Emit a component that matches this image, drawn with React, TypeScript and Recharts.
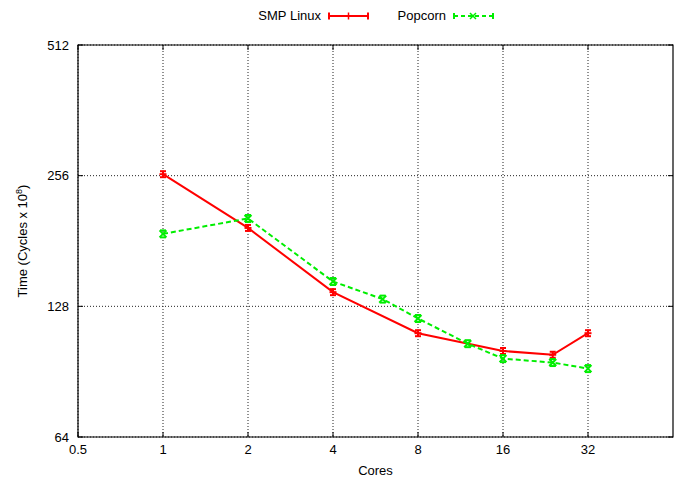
import React from "react";
import {
  LineChart,
  Line,
  XAxis,
  YAxis,
  CartesianGrid,
  ReferenceArea,
} from "recharts";

const xTicks = [0.5, 1, 2, 4, 8, 16, 32];
const yTicks = [64, 128, 256, 512];

const smpCores = [1, 2, 4, 8, 16, 24, 32];
const smpTime = [258, 194, 138, 111, 101, 99, 111];

const popCores = [1, 2, 4, 6, 8, 12, 16, 24, 32];
const popTime = [188, 204, 146, 133, 120, 105, 97, 95, 92];

const smpData = smpCores.map((c, i) => ({ cores: c, time: smpTime[i] }));
const popData = popCores.map((c, i) => ({ cores: c, time: popTime[i] }));

const FONT = "'Liberation Sans', Arial, Helvetica, sans-serif";
const FS = 13;
const RED = "#ff0000";
const GREEN = "#00ee00";

// plot box edges, from the chart margins below
const PLOT = { left: 78, right: 673, top: 45, bottom: 437 };

// plus marker with error-bar caps
const PlusDot = (props: any) => {
  const { cx, cy, index } = props;
  if (cx == null || cy == null) return <g key={index} />;
  return (
    <g key={index} stroke={RED} strokeWidth={2}>
      <line x1={cx - 3.5} y1={cy} x2={cx + 3.5} y2={cy} />
      <line x1={cx} y1={cy - 3.5} x2={cx} y2={cy + 3.5} />
      <line x1={cx - 3} y1={cy - 3} x2={cx + 3} y2={cy - 3} />
      <line x1={cx - 3} y1={cy + 3} x2={cx + 3} y2={cy + 3} />
    </g>
  );
};

// cross marker with error-bar caps
const CrossDot = (props: any) => {
  const { cx, cy, index } = props;
  if (cx == null || cy == null) return <g key={index} />;
  return (
    <g key={index} stroke={GREEN} strokeWidth={2}>
      <line x1={cx - 3.5} y1={cy - 3.5} x2={cx + 3.5} y2={cy + 3.5} />
      <line x1={cx - 3.5} y1={cy + 3.5} x2={cx + 3.5} y2={cy - 3.5} />
      <line x1={cx - 3} y1={cy - 3.5} x2={cx + 3} y2={cy - 3.5} />
      <line x1={cx - 3} y1={cy + 3.5} x2={cx + 3} y2={cy + 3.5} />
    </g>
  );
};

// tick label plus gnuplot-style inward ticks on both sides
const YTick = (props: any) => {
  const { x, y, payload } = props;
  return (
    <g>
      <line x1={PLOT.left} y1={y} x2={PLOT.left + 5} y2={y} stroke="#000" />
      <line x1={PLOT.right - 5} y1={y} x2={PLOT.right} y2={y} stroke="#000" />
      <text x={x} y={y} dy="0.35em" textAnchor="end" fontSize={FS} fontFamily={FONT} fill="#000">
        {payload.value}
      </text>
    </g>
  );
};

const XTick = (props: any) => {
  const { x, y, payload } = props;
  return (
    <g>
      <line x1={x} y1={PLOT.bottom} x2={x} y2={PLOT.bottom - 5} stroke="#000" />
      <line x1={x} y1={PLOT.top} x2={x} y2={PLOT.top + 5} stroke="#000" />
      <text x={x} y={y} dy="0.71em" textAnchor="middle" fontSize={FS} fontFamily={FONT} fill="#000">
        {payload.value}
      </text>
    </g>
  );
};

const YLabel = () => (
  <text
    transform="translate(27,241) rotate(-90)"
    textAnchor="middle"
    fontSize={FS}
    fontFamily={FONT}
    fill="#000"
  >
    Time (Cycles x 10
    <tspan dy={-5} fontSize={9}>8</tspan>
    <tspan dy={5}>)</tspan>
  </text>
);

const LegendBar: React.FC = () => (
  <svg width={678} height={32} style={{ position: "absolute", left: 0, top: 0 }}>
    <text x={321} y={20} textAnchor="end" fontSize={FS} fontFamily={FONT} fill="#000">
      SMP Linux
    </text>
    <g stroke={RED} strokeWidth={2}>
      <line x1={329} y1={16} x2={368} y2={16} />
      <line x1={329} y1={12.5} x2={329} y2={19.5} />
      <line x1={368} y1={12.5} x2={368} y2={19.5} />
      <line x1={348.5} y1={12.5} x2={348.5} y2={19.5} strokeWidth={1.5} />
    </g>
    <text x={446} y={20} textAnchor="end" fontSize={FS} fontFamily={FONT} fill="#000">
      Popcorn
    </text>
    <g stroke={GREEN} strokeWidth={2}>
      <line x1={454} y1={16} x2={493} y2={16} strokeDasharray="4 3" />
      <line x1={454} y1={13} x2={454} y2={19} />
      <line x1={493} y1={13} x2={493} y2={19} />
      <line x1={470} y1={13} x2={476} y2={19} strokeWidth={1.5} />
      <line x1={470} y1={19} x2={476} y2={13} strokeWidth={1.5} />
    </g>
  </svg>
);

const App: React.FC = () => {
  return (
    <div style={{ position: "absolute", left: 0, top: 0, width: 678, height: 478, background: "#fff" }}>
      <LineChart
        width={678}
        height={478}
        margin={{ top: 45, right: 5, bottom: 1, left: 18 }}
        style={{ fontFamily: FONT }}
      >
        <CartesianGrid
          stroke="#222"
          strokeDasharray="1 2"
          strokeWidth={1}
          horizontalValues={yTicks}
          verticalValues={xTicks}
        />
        <XAxis
          dataKey="cores"
          type="number"
          scale="log"
          domain={[0.5, 64]}
          ticks={xTicks}
          allowDataOverflow
          axisLine={false}
          tickLine={false}
          tickMargin={2}
          height={40}
          tick={<XTick />}
          label={{ value: "Cores", position: "insideBottom", offset: 2, fill: "#000", fontSize: FS, fontFamily: FONT }}
        />
        <YAxis
          dataKey="time"
          type="number"
          scale="log"
          domain={[64, 512]}
          ticks={yTicks}
          allowDataOverflow
          axisLine={false}
          tickLine={false}
          tickMargin={3}
          width={60}
          tick={<YTick />}
          label={{ content: () => <YLabel /> }}
        />
        <ReferenceArea
          x1={0.5}
          x2={64}
          y1={64}
          y2={512}
          fill="none"
          fillOpacity={0}
          stroke="#000"
          strokeWidth={1.2}
          ifOverflow="visible"
        />
        <Line
          data={smpData}
          dataKey="time"
          name="SMP Linux"
          stroke={RED}
          strokeWidth={2}
          dot={PlusDot}
          activeDot={false}
          isAnimationActive={false}
        />
        <Line
          data={popData}
          dataKey="time"
          name="Popcorn"
          stroke={GREEN}
          strokeWidth={2}
          strokeDasharray="5 3"
          dot={CrossDot}
          activeDot={false}
          isAnimationActive={false}
        />
      </LineChart>
      <LegendBar />
    </div>
  );
};

export default App;
